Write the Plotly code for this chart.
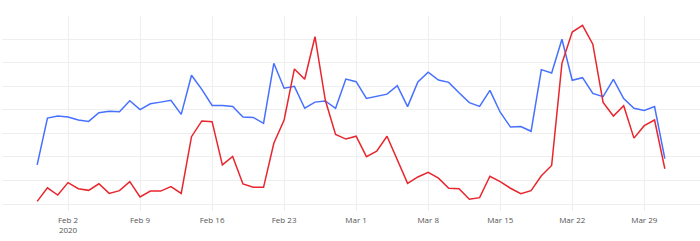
import plotly.graph_objects as go
import pandas as pd

dates = pd.date_range("2020-01-30", "2020-03-31", freq="D")

blue = [16.6, 36.5, 37.4, 37.0, 35.7, 35.1, 38.8, 39.4, 39.2, 43.9,
        40.1, 42.6, 43.3, 44.1, 38.1, 54.7, 48.7, 41.9, 41.9, 41.4,
        37.0, 36.8, 34.3, 59.8, 49.2, 50.0, 40.7, 43.3, 43.8, 40.7,
        53.1, 52.0, 44.9, 45.9, 46.7, 50.3, 41.4, 51.9, 56.0, 52.7,
        51.7, 47.3, 43.1, 41.5, 48.3, 39.0, 32.7, 32.9, 30.9, 57.1,
        55.7, 70.0, 52.6, 53.7, 47.0, 45.6, 53.0, 44.8, 40.7, 39.8,
        41.4, 19.3]

red = [1.1, 6.9, 3.8, 9.1, 6.5, 5.8, 8.6, 4.5, 5.7, 9.5,
       3.0, 5.5, 5.5, 7.4, 4.5, 28.6, 35.3, 35.0, 16.6, 20.2,
       8.5, 7.1, 7.1, 25.8, 35.7, 57.4, 53.0, 71.1, 44.2, 29.6,
       27.6, 28.8, 20.1, 22.5, 28.8, 18.7, 8.8, 11.5, 13.5, 11.0,
       6.7, 6.5, 2.0, 2.7, 11.8, 9.5, 6.7, 4.4, 5.7, 12.0,
       16.4, 59.8, 73.1, 75.9, 67.9, 43.2, 37.4, 41.8, 28.0, 33.3,
       35.7, 15.0]

fig = go.Figure()
fig.add_trace(go.Scatter(x=dates, y=blue, mode="lines",
                         line=dict(color="#4670ff", width=1.5), showlegend=False))
fig.add_trace(go.Scatter(x=dates, y=red, mode="lines",
                         line=dict(color="#e8262d", width=1.5), showlegend=False))

pad = pd.Timedelta(hours=82)
fig.update_layout(
    width=700, height=241,
    margin=dict(l=2, r=0, t=16, b=30),
    paper_bgcolor="white", plot_bgcolor="white",
    font=dict(family="Open Sans", size=8, color="#555"),
    xaxis=dict(range=[dates[0] - pad, dates[-1] + pad],
               tick0="2020-02-02", dtick=7 * 86400000,
               showgrid=True, gridcolor="#eeeeee", gridwidth=1,
               zeroline=False, showline=False,
               ticks="outside", ticklen=1, tickcolor="rgba(0,0,0,0)"),
    yaxis=dict(range=[-2.97, 79.9], tick0=0, dtick=10,
               showgrid=True, gridcolor="#eeeeee", gridwidth=1,
               zeroline=False, showline=False, showticklabels=False, ticks=""),
)

fig.write_html("out.html")
